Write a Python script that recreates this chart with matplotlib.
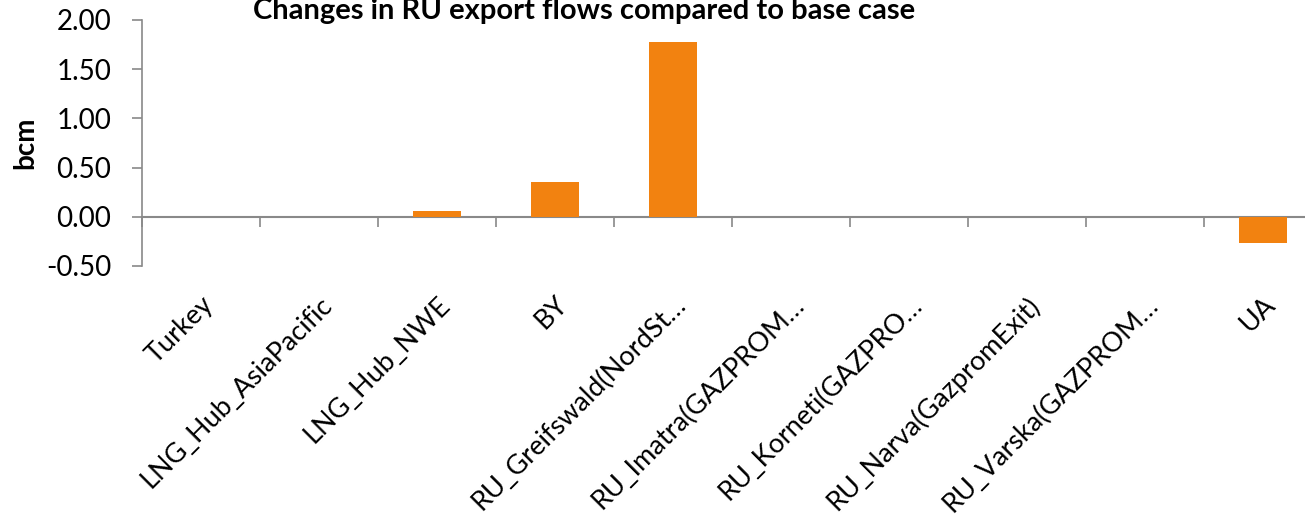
import matplotlib.pyplot as plt
import numpy as np

plt.rcParams['font.family'] = ['Lato', 'DejaVu Sans']

categories = ['Turkey', 'LNG_Hub_AsiaPacific', 'LNG_Hub_NWE', 'BY',
              'RU_Greifswald(NordSt\u2026', 'RU_Imatra(GAZPROM\u2026',
              'RU_Korneti(GAZPRO\u2026', 'RU_Narva(GazpromExit)',
              'RU_Varska(GAZPROM\u2026', 'UA']
values = [0.0, 0.0, 0.06, 0.355, 1.775, 0.0, 0.0, 0.0, 0.0, -0.27]
yticks = [-0.5, 0.0, 0.5, 1.0, 1.5, 2.0]

fig = plt.figure(figsize=(13.05, 5.31), dpi=100)
W, H = 1305, 531
left, right = 142, 1322
top, bottom = 20, 266
ax = fig.add_axes([left / W, 1 - bottom / H, (right - left) / W, (bottom - top) / H])

x = np.arange(len(categories))
ax.bar(x, values, width=0.41, color='#F28210', zorder=3)

ax.set_xlim(-0.5, len(categories) - 0.5)
ax.set_ylim(-0.5, 2.0)
ax.set_yticks(yticks)
ax.set_yticklabels(['%.2f' % v for v in yticks], fontsize=20)

# category axis sits on the zero line
ax.spines['bottom'].set_position(('data', 0))
ax.spines['bottom'].set_color('#898989')
ax.spines['bottom'].set_linewidth(1.5)
ax.spines['bottom'].set_zorder(2)
ax.set_xticks(x)
ax.set_xticklabels(categories, rotation=45, ha='right', rotation_mode='anchor', fontsize=19.5)
ax.set_xticks(np.arange(len(categories) + 1) - 0.5, minor=True)
ax.tick_params(axis='x', which='major', length=0, pad=54)
ax.tick_params(axis='x', which='minor', length=7, color='#898989', width=1.2)
ax.tick_params(axis='y', length=7, color='#898989', width=1.2, pad=15)

for s in ['top', 'right']:
    ax.spines[s].set_visible(False)
ax.spines['left'].set_color('#898989')
ax.spines['left'].set_linewidth(1.2)

ax.set_ylabel('bcm', fontsize=20, fontweight='bold', labelpad=6)
fig.text(584 / W, 1 - 19 / H, 'Changes in RU export flows compared to base case',
         fontsize=21, fontweight='bold', ha='center', va='baseline')

fig.savefig('out.png', dpi=100)
